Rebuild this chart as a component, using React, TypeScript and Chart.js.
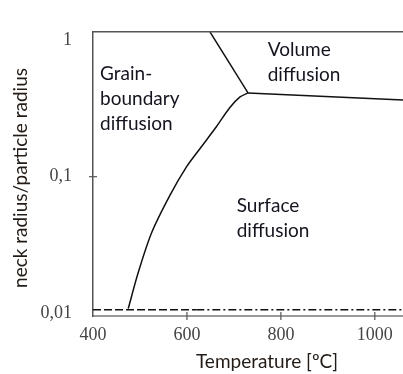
import React, { useEffect, useRef } from "react";
import { Chart, registerables } from "chart.js";

Chart.register(...registerables);

// Boundary: grain-boundary / surface diffusion (temperature °C, neck ratio)
const gbSurfaceT = [475, 496, 525, 564, 599, 628, 663, 691, 713, 730];
const gbSurfaceR = [0.0108, 0.0197, 0.039, 0.0733, 0.118, 0.161, 0.233, 0.32, 0.384, 0.411];
// Boundary: grain-boundary / volume diffusion
const gbVolumeT = [649, 730];
const gbVolumeR = [1.15, 0.411];
// Boundary: volume / surface diffusion
const volSurfaceT = [730, 1060];
const volSurfaceR = [0.411, 0.365];
// Lower limit line
const limitDashT = [400, 620];
const limitDashDotT = [620, 1060];
const limitR = 0.0106;

const xTicks = [400, 600, 800, 1000];
const yTicks = [0.01, 0.1, 1];
const yTickLabels = ["0,01", "0,1", "1"];
const xMarkTicks = [600, 800, 1000];
const yMarkTicks = [0.1];

const regionLabels = [
  { lines: ["Grain-", "boundary", "diffusion"], t: 415, r: 0.566 },
  { lines: ["Volume", "diffusion"], t: 772, r: 0.847 },
  { lines: ["Surface", "diffusion"], t: 706, r: 0.0613 },
];

const xTitle = "Temperature [ºC]";
const yTitle = "neck radius/particle radius";

const toPts = (xs: number[], ys: number[]) => xs.map((x, i) => ({ x, y: ys[i] }));

export default function App() {
  const ref = useRef<HTMLCanvasElement | null>(null);

  useEffect(() => {
    if (!ref.current) return;
    const lineStyle = {
      showLine: true,
      pointRadius: 0,
      borderColor: "#111",
      borderWidth: 1.5,
      fill: false,
      tension: 0,
    };
    const overlay = {
      id: "overlay",
      afterDraw(chart: any) {
        const ctx = chart.ctx;
        const { left, right, top, bottom } = chart.chartArea;
        const xs = chart.scales.x;
        const ys = chart.scales.y;
        ctx.save();
        // top border
        ctx.strokeStyle = "#555";
        ctx.lineWidth = 1.5;
        ctx.beginPath();
        ctx.moveTo(left, top);
        ctx.lineTo(right, top);
        ctx.stroke();
        // tick marks crossing axes
        ctx.strokeStyle = "#555";
        ctx.lineWidth = 1.2;
        xMarkTicks.forEach((v) => {
          const px = xs.getPixelForValue(v);
          ctx.beginPath();
          ctx.moveTo(px, bottom - 4);
          ctx.lineTo(px, bottom + 4);
          ctx.stroke();
        });
        yMarkTicks.forEach((v) => {
          const py = ys.getPixelForValue(v);
          ctx.beginPath();
          ctx.moveTo(left - 4, py);
          ctx.lineTo(left + 4, py);
          ctx.stroke();
        });
        // region labels
        ctx.fillStyle = "#14141f";
        ctx.font = "19px Lato";
        ctx.textAlign = "left";
        ctx.textBaseline = "middle";
        regionLabels.forEach((lab) => {
          const px = xs.getPixelForValue(lab.t);
          const py = ys.getPixelForValue(lab.r);
          lab.lines.forEach((s, i) => ctx.fillText(s, px, py + i * 25));
        });
        // axis titles
        ctx.fillStyle = "#221b16";
        ctx.font = "19px Lato";
        ctx.textAlign = "center";
        ctx.fillText(xTitle, 267, 362);
        ctx.translate(21, 178);
        ctx.rotate(-Math.PI / 2);
        ctx.fillText(yTitle, 0, 0);
        ctx.restore();
      },
    };
    const chart = new Chart(ref.current, {
      type: "scatter",
      data: {
        datasets: [
          { ...lineStyle, data: toPts(gbSurfaceT, gbSurfaceR), tension: 0.3 },
          { ...lineStyle, data: toPts(gbVolumeT, gbVolumeR) },
          { ...lineStyle, data: toPts(volSurfaceT, volSurfaceR) },
          {
            ...lineStyle,
            borderWidth: 1.3,
            borderDash: [8, 3],
            data: toPts(limitDashT, limitDashT.map(() => limitR)),
          },
          {
            ...lineStyle,
            borderWidth: 1.3,
            borderDash: [8, 3, 2, 3],
            data: toPts(limitDashDotT, limitDashDotT.map(() => limitR)),
          },
        ],
      },
      options: {
        animation: false,
        responsive: false,
        layout: { padding: { top: 12, right: 0, left: 0, bottom: 0 } },
        plugins: { legend: { display: false }, tooltip: { enabled: false } },
        scales: {
          x: {
            type: "linear",
            min: 400,
            max: 1060,
            afterFit: (s: any) => {
              s.height = 58;
            },
            afterBuildTicks: (s: any) => {
              s.ticks = xTicks.map((v) => ({ value: v }));
            },
            grid: { display: true, drawOnChartArea: false, drawTicks: false },
            border: { color: "#999", width: 2 },
            ticks: {
              padding: 8,
              color: "#444",
              font: { family: "'Liberation Serif'", size: 18 },
              maxRotation: 0,
              autoSkip: false,
              callback: (v: any) => String(v),
            },
          },
          y: {
            type: "logarithmic",
            min: 0.00954,
            max: 1.152,
            afterFit: (s: any) => {
              s.width = 93;
            },
            afterBuildTicks: (s: any) => {
              s.ticks = yTicks.map((v) => ({ value: v }));
            },
            grid: { display: true, drawOnChartArea: false, drawTicks: false },
            border: { color: "#555", width: 1.5 },
            ticks: {
              padding: 21,
              color: "#444",
              font: { family: "'Liberation Serif'", size: 18 },
              autoSkip: false,
              callback: (v: any) => {
                const i = yTicks.indexOf(Number(v));
                return i >= 0 ? yTickLabels[i] : "";
              },
            },
          },
        },
      },
      plugins: [overlay],
    });
    return () => chart.destroy();
  }, []);

  return (
    <div style={{ position: "fixed", left: 0, top: 0, width: 403, height: 374, background: "#fff" }}>
      <canvas ref={ref} width={403} height={374} />
    </div>
  );
}
